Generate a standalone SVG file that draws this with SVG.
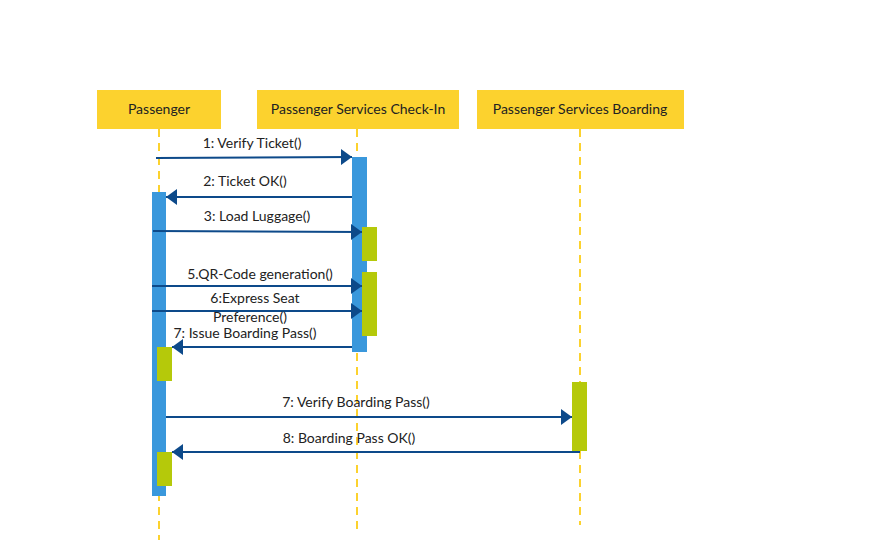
<svg xmlns="http://www.w3.org/2000/svg" width="892" height="558" viewBox="0 0 892 558">
<defs>
<marker id="arr" markerUnits="userSpaceOnUse" markerWidth="12" markerHeight="16" refX="11" refY="8" orient="auto">
<path d="M0,0 L11,8 L0,16 z" fill="#0D4A8A"/>
</marker>
<style>
.hdr{fill:#FCD22E}
.ht{font-family:Lato,"Liberation Sans",sans-serif;font-size:14px;fill:#222;text-anchor:middle}
.life{stroke:#FCD22E;stroke-width:2;stroke-dasharray:8,6;fill:none}
.act{fill:#3A98DC}
.grn{fill:#B5C90A}
.msg{stroke:#0D4A8A;stroke-width:2;fill:none;marker-end:url(#arr)}
.ml{font-family:Lato,"Liberation Sans",sans-serif;font-size:14px;fill:#222;text-anchor:middle}
</style>
</defs>
<rect width="892" height="558" fill="#fff"/>
<g id="passenger">
<rect class="hdr" x="97" y="90" width="124" height="39"/>
<text class="ht" x="159" y="114">Passenger</text>
<line class="life" x1="159" y1="129" x2="159" y2="540"/>
<rect class="act" x="152" y="192" width="14" height="304"/>
<rect class="grn" x="157" y="347" width="15" height="34"/>
<rect class="grn" x="157" y="452" width="15" height="34"/>
</g>
<g id="checkin">
<rect class="hdr" x="257" y="90" width="202" height="39"/>
<text class="ht" x="358" y="114">Passenger Services Check-In</text>
<line class="life" x1="357" y1="129" x2="357" y2="530"/>
<rect class="act" x="352" y="157" width="15" height="195"/>
<rect class="grn" x="362" y="227" width="15" height="34"/>
<rect class="grn" x="362" y="272" width="15" height="64"/>
</g>
<g id="boarding">
<rect class="hdr" x="477" y="90" width="207" height="39"/>
<text class="ht" x="580" y="114">Passenger Services Boarding</text>
<line class="life" x1="580" y1="129" x2="580" y2="525"/>
<rect class="grn" x="572" y="382" width="15" height="69"/>
</g>
<g id="connectors">
<line class="msg" x1="156" y1="158" x2="352" y2="157"/>
<text class="ml" x="252" y="148">1: Verify Ticket()</text>
<line class="msg" x1="352" y1="197" x2="166" y2="197"/>
<text class="ml" x="245" y="186">2: Ticket OK()</text>
<line class="msg" x1="153" y1="231" x2="362" y2="232"/>
<text class="ml" x="257" y="221">3: Load Luggage()</text>
<line class="msg" x1="152" y1="286" x2="362" y2="286"/>
<text class="ml" x="260" y="279">5.QR-Code generation()</text>
<line class="msg" x1="152" y1="311" x2="362" y2="311"/>
<text class="ml" x="255" y="303">6:Express Seat</text>
<text class="ml" x="250" y="322">Preference()</text>
<line class="msg" x1="352" y1="347" x2="172" y2="347"/>
<text class="ml" x="245" y="338">7: Issue Boarding Pass()</text>
<line class="msg" x1="166" y1="417" x2="572" y2="417"/>
<text class="ml" x="356" y="407">7: Verify Boarding Pass()</text>
<line class="msg" x1="580" y1="452" x2="172" y2="452"/>
<text class="ml" x="349" y="443">8: Boarding Pass OK()</text>
</g>
</svg>
